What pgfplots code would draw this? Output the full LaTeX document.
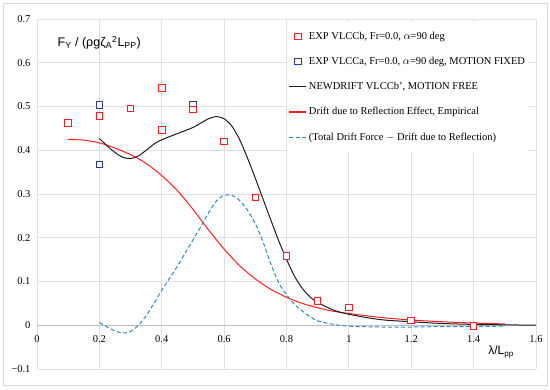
\documentclass[border=0pt]{standalone}
\usepackage{pgfplots}
\pgfplotsset{compat=1.18}
\usepackage{fontspec}
\setmainfont{Liberation Serif}
\newfontfamily\sansf{Liberation Sans}
\definecolor{expred}{RGB}{250,30,30}
\definecolor{expblue}{RGB}{43,58,140}
\definecolor{dashblue}{RGB}{46,134,214}
\definecolor{gridgray}{RGB}{224,224,224}
\definecolor{axgray}{RGB}{190,190,190}
\definecolor{framegray}{RGB}{217,217,217}
\definecolor{txt}{RGB}{30,30,30}
\begin{document}
\begin{tikzpicture}
\begin{axis}[
  scale only axis, width=499pt, height=350pt,
  xmin=0, xmax=1.6, ymin=-0.1, ymax=0.7,
  axis x line=middle, axis y line=left,
  x axis line style={-, draw=axgray, line width=0.8pt},
  y axis line style={draw=none},
  hide obscured x ticks=false, hide obscured y ticks=false,
  xtick={0,0.2,0.4,0.6,0.8,1,1.2,1.4,1.6},
  xticklabels={0,0.2,0.4,0.6,0.8,1,1.2,1.4,1.6},
  ytick={-0.1,0,0.1,0.2,0.3,0.4,0.5,0.6,0.7},
  yticklabels={−0.1,0,0.1,0.2,0.3,0.4,0.5,0.6,0.7},
  major tick length=0pt,
  grid=major, grid style={draw=gridgray, line width=0.8pt},
  tick label style={font=\fontsize{10.5}{12}\selectfont},
  xticklabel style={yshift=-7pt},
  yticklabel style={xshift=-3pt},
  clip=false,
  legend style={at={(0.5,0.992)}, anchor=north west, draw=none, fill=white,
    font=\fontsize{10.5}{12}\selectfont, row sep=12.4pt, legend cell align=left,
    inner xsep=2pt, inner ysep=8pt},
  legend cell align=left,
]
\addlegendimage{only marks, mark=square*, mark size=3.3pt, mark options={draw=expred, fill=white, line width=1pt}}
\addlegendentry{EXP VLCCb, Fr=0.0, $\alpha$=90 deg}
\addlegendimage{only marks, mark=square*, mark size=3.3pt, mark options={draw=expblue, fill=white, line width=1pt}}
\addlegendentry{EXP VLCCa, Fr=0.0, $\alpha$=90 deg, MOTION FIXED}
\addlegendimage{draw=txt, line width=1.2pt}
\addlegendentry{NEWDRIFT VLCCb', MOTION FREE}
\addlegendimage{draw=expred, line width=1.2pt}
\addlegendentry{Drift due to Reflection Effect, Empirical}
\addlegendimage{draw=dashblue, line width=1.2pt, dash pattern=on 4pt off 2.5pt}
\addlegendentry{(Total Drift Force $-$ Drift due to Reflection)}

\addplot[forget plot, draw=expred, line width=1pt, smooth, tension=0.5] coordinates {
(0.1,0.425) (0.15,0.423) (0.2,0.417) (0.25,0.405) (0.3,0.39) (0.35,0.37) (0.4,0.342) (0.45,0.308) (0.5,0.265) (0.55,0.218) (0.6,0.174) (0.65,0.136) (0.7,0.106) (0.75,0.082) (0.8,0.064) (0.85,0.05) (0.9,0.04) (0.95,0.032) (1.0,0.027) (1.1,0.018) (1.2,0.012) (1.3,0.008) (1.4,0.005) (1.5,0.003)
};
\addplot[forget plot, draw=dashblue, line width=1pt, dash pattern=on 4pt off 2.5pt, smooth, tension=0.5] coordinates {
(0.2,0.006) (0.225,-0.004) (0.25,-0.013) (0.275,-0.018) (0.3,-0.014) (0.325,0.0) (0.35,0.022) (0.375,0.05) (0.4,0.08) (0.425,0.107) (0.45,0.135) (0.475,0.165) (0.5,0.195) (0.525,0.225) (0.55,0.257) (0.575,0.284) (0.6,0.297) (0.625,0.297) (0.65,0.285) (0.675,0.263) (0.7,0.232) (0.725,0.19) (0.75,0.14) (0.775,0.097) (0.8,0.07) (0.825,0.048) (0.85,0.033) (0.875,0.02) (0.9,0.01) (0.95,0.002) (1.0,-0.002) (1.1,-0.004) (1.2,-0.004) (1.3,-0.003) (1.4,-0.003) (1.5,-0.002)
};
\addplot[forget plot, draw=txt, line width=1pt, smooth, tension=0.5] coordinates {
(0.2,0.427) (0.225,0.41) (0.25,0.395) (0.275,0.384) (0.3,0.381) (0.325,0.387) (0.35,0.400) (0.375,0.414) (0.4,0.424) (0.45,0.438) (0.5,0.452) (0.525,0.462) (0.55,0.472) (0.575,0.477) (0.6,0.472) (0.625,0.455) (0.65,0.424) (0.675,0.382) (0.7,0.336) (0.725,0.288) (0.75,0.24) (0.775,0.193) (0.8,0.151) (0.825,0.113) (0.85,0.085) (0.875,0.065) (0.9,0.052) (0.95,0.035) (1.0,0.025) (1.1,0.013) (1.2,0.008) (1.3,0.004) (1.4,0.002) (1.5,0.001) (1.6,0.0)
};
\addplot[forget plot, only marks, mark=square*, mark size=3.3pt, mark options={draw=expblue, fill=white, line width=1pt}] coordinates {
(0.2,0.503) (0.2,0.367) (0.5,0.503)
};
\addplot[forget plot, only marks, mark=square*, mark size=3.3pt, mark options={draw=expred, fill=white, line width=1pt}] coordinates {
(0.1,0.462) (0.2,0.478) (0.3,0.495) (0.4,0.542) (0.4,0.446) (0.5,0.493) (0.6,0.420) (0.7,0.292) (0.8,0.158) (0.9,0.055) (1.0,0.041) (1.2,0.011) (1.4,-0.002)
};
\node[anchor=west, font=\sansf\fontsize{12.5}{14}\selectfont] at (axis cs:0.055,0.645)
  {F\textsubscript{Y} / (ρgζ\textsubscript{A}\textsuperscript{2}L\textsubscript{PP})};
\node[font=\sansf\fontsize{12}{14}\selectfont] at (axis cs:1.488,-0.062)
  {λ/L\textsubscript{pp}};
\end{axis}
\draw[draw=framegray, line width=0.8pt] ([xshift=-34pt,yshift=-16pt]current axis.south west) rectangle ([xshift=11pt,yshift=16pt]current axis.north east);
\path ([xshift=-37pt,yshift=-20pt]current axis.south west) rectangle ([xshift=14pt,yshift=19pt]current axis.north east);
\end{tikzpicture}
\end{document}
